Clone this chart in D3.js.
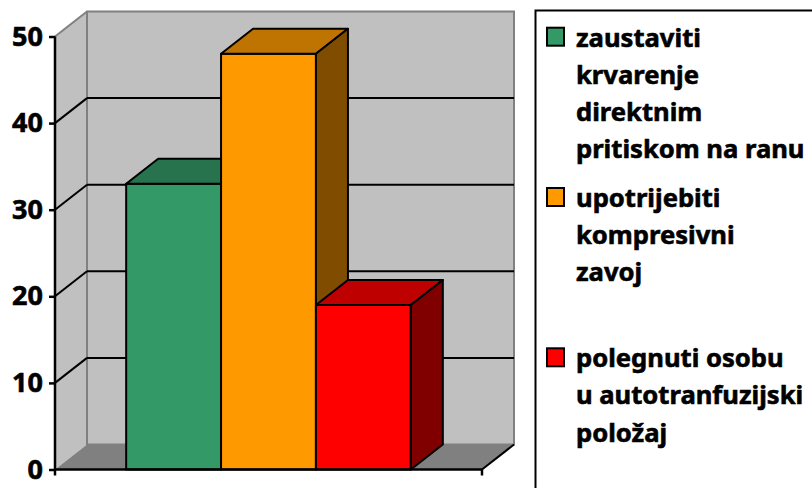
<!DOCTYPE html>
<html lang="hr">
<head>
<meta charset="UTF-8">
<title>Prva pomoć - krvarenje</title>
<script src="https://d3js.org/d3.v7.min.js"></script>
<style>
    body, html {
        margin: 0;
        background: #fff;
        overflow: hidden;
    }
    text {
        font-family: "Noto Sans", "Open Sans", sans-serif;
        font-weight: 700;
        stroke: #000;
        stroke-width: 0.6px;
    }
</style>
</head>
<body>
<svg id="chart" width="812" height="488"></svg>
<script>
    // podaci (postotak odgovora)
    var seriesNames = ["zaustaviti krvarenje direktnim pritiskom na ranu",
                       "upotrijebiti kompresivni zavoj",
                       "polegnuti osobu u autotranfuzijski položaj"];
    var legendLines = [["zaustaviti", "krvarenje", "direktnim", "pritiskom na ranu"],
                       ["upotrijebiti", "kompresivni", "zavoj"],
                       ["polegnuti osobu", "u autotranfuzijski", "položaj"]];
    var values = [33, 48, 19];
    var colors = ["#339966", "#FF9900", "#FF0000"];
    var yTicks = [0, 10, 20, 30, 40, 50];

    var svg = d3.select("#chart");

    // 3D pomak (dubina)
    var dx = 32, dy = -25;
    var x0 = 55, x1 = 482;

    var y = d3.scaleLinear().domain([0, 50]).range([469.5, 36.5]);
    var x = d3.scaleBand().domain(seriesNames).range([x0, x1])
        .paddingInner(0).paddingOuter(0.75);

    function shade(c, k) {
        var r = d3.rgb(c);
        return d3.rgb(r.r * k, r.g * k, r.b * k).formatHex();
    }
    function pts(a) { return a.map(function (p) { return p.join(","); }).join(" "); }

    var y0 = y(0), yTop = y(50);

    // lijevi zid
    svg.append("polygon")
        .attr("points", pts([[x0, yTop], [x0 + dx, yTop + dy], [x0 + dx, y0 + dy], [x0, y0]]))
        .attr("fill", "#C0C0C0");
    // stražnji zid
    svg.append("rect")
        .attr("x", x0 + dx).attr("y", yTop + dy)
        .attr("width", x1 - x0).attr("height", y0 - yTop)
        .attr("fill", "#C0C0C0")
        .attr("stroke", "#808080").attr("stroke-width", 2);
    svg.append("line")
        .attr("x1", x0).attr("y1", yTop).attr("x2", x0 + dx).attr("y2", yTop + dy)
        .attr("stroke", "#808080").attr("stroke-width", 2);

    // mreža
    var grid = yTicks.filter(function (t) { return t > 0 && t < 50; });
    svg.selectAll(".grid-side").data(grid).enter().append("line")
        .attr("x1", x0).attr("y1", function (d) { return y(d); })
        .attr("x2", x0 + dx).attr("y2", function (d) { return y(d) + dy; })
        .attr("stroke", "#000").attr("stroke-width", 2);
    svg.selectAll(".grid-back").data(grid).enter().append("line")
        .attr("x1", x0 + dx).attr("y1", function (d) { return y(d) + dy; })
        .attr("x2", x1 + dx).attr("y2", function (d) { return y(d) + dy; })
        .attr("stroke", "#000").attr("stroke-width", 2);

    // pod
    svg.append("polygon")
        .attr("points", pts([[x0, y0], [x0 + dx, y0 + dy], [x1 + dx, y0 + dy], [x1, y0]]))
        .attr("fill", "#808080");
    svg.append("line")
        .attr("x1", x1).attr("y1", y0).attr("x2", x1 + dx).attr("y2", y0 + dy)
        .attr("stroke", "#000").attr("stroke-width", 2);

    // stupci
    var bw = x.bandwidth();
    seriesNames.forEach(function (name, i) {
        var bx = x(name), by = y(values[i]);
        var g = svg.append("g")
            .attr("stroke", "#000").attr("stroke-width", 2).attr("stroke-linejoin", "round");
        g.append("rect")
            .attr("x", bx).attr("y", by).attr("width", bw).attr("height", y0 - by)
            .attr("fill", colors[i]);
        g.append("polygon")
            .attr("points", pts([[bx, by], [bx + dx, by + dy], [bx + bw + dx, by + dy], [bx + bw, by]]))
            .attr("fill", shade(colors[i], 0.75));
        g.append("polygon")
            .attr("points", pts([[bx + bw, by], [bx + bw + dx, by + dy], [bx + bw + dx, y0 + dy], [bx + bw, y0]]))
            .attr("fill", shade(colors[i], 0.5));
    });

    // os Y
    var yAxis = svg.append("g")
        .attr("transform", "translate(" + x0 + ",0)")
        .call(d3.axisLeft(y).tickValues(yTicks).tickSize(6).tickPadding(6));
    yAxis.select(".domain").attr("stroke", "#000").attr("stroke-width", 2.5)
        .attr("d", "M0," + y0 + "V" + yTop);
    yAxis.selectAll(".tick line").attr("stroke", "#000").attr("stroke-width", 2.5);
    yAxis.selectAll(".tick text")
        .attr("fill", "#000")
        .style("font-family", "'Noto Sans', 'Open Sans', sans-serif")
        .style("font-weight", "700")
        .style("font-size", "27px");

    // os X
    svg.append("line")
        .attr("x1", x0).attr("y1", y0).attr("x2", x1).attr("y2", y0)
        .attr("stroke", "#000").attr("stroke-width", 2.5);
    svg.selectAll(".xtick").data([x0, x1]).enter().append("line")
        .attr("x1", function (d) { return d; }).attr("x2", function (d) { return d; })
        .attr("y1", y0).attr("y2", y0 + 6)
        .attr("stroke", "#000").attr("stroke-width", 2.5);

    // legenda
    var lx = 535.5, ly = 10.5;
    svg.append("rect")
        .attr("x", lx).attr("y", ly).attr("width", 300).attr("height", 500)
        .attr("fill", "#fff").attr("stroke", "#000").attr("stroke-width", 2);

    var firstBase = 46.7, entryStep = 160.3, lineStep = 37.2;
    var leg = svg.selectAll(".leg").data(legendLines).enter().append("g")
        .attr("transform", function (d, i) { return "translate(0," + (firstBase + i * entryStep) + ")"; });
    leg.append("rect")
        .attr("x", 547).attr("y", -19).attr("width", 17).attr("height", 18)
        .attr("fill", function (d, i) { return colors[i]; })
        .attr("stroke", "#000").attr("stroke-width", 2);
    leg.each(function (lines) {
        d3.select(this).selectAll("text").data(lines).enter().append("text")
            .attr("x", 576).attr("y", function (d, j) { return j * lineStep; })
            .style("font-size", "25.6px")
            .attr("fill", "#000")
            .text(function (d) { return d; });
    });
</script>
</body>
</html>
